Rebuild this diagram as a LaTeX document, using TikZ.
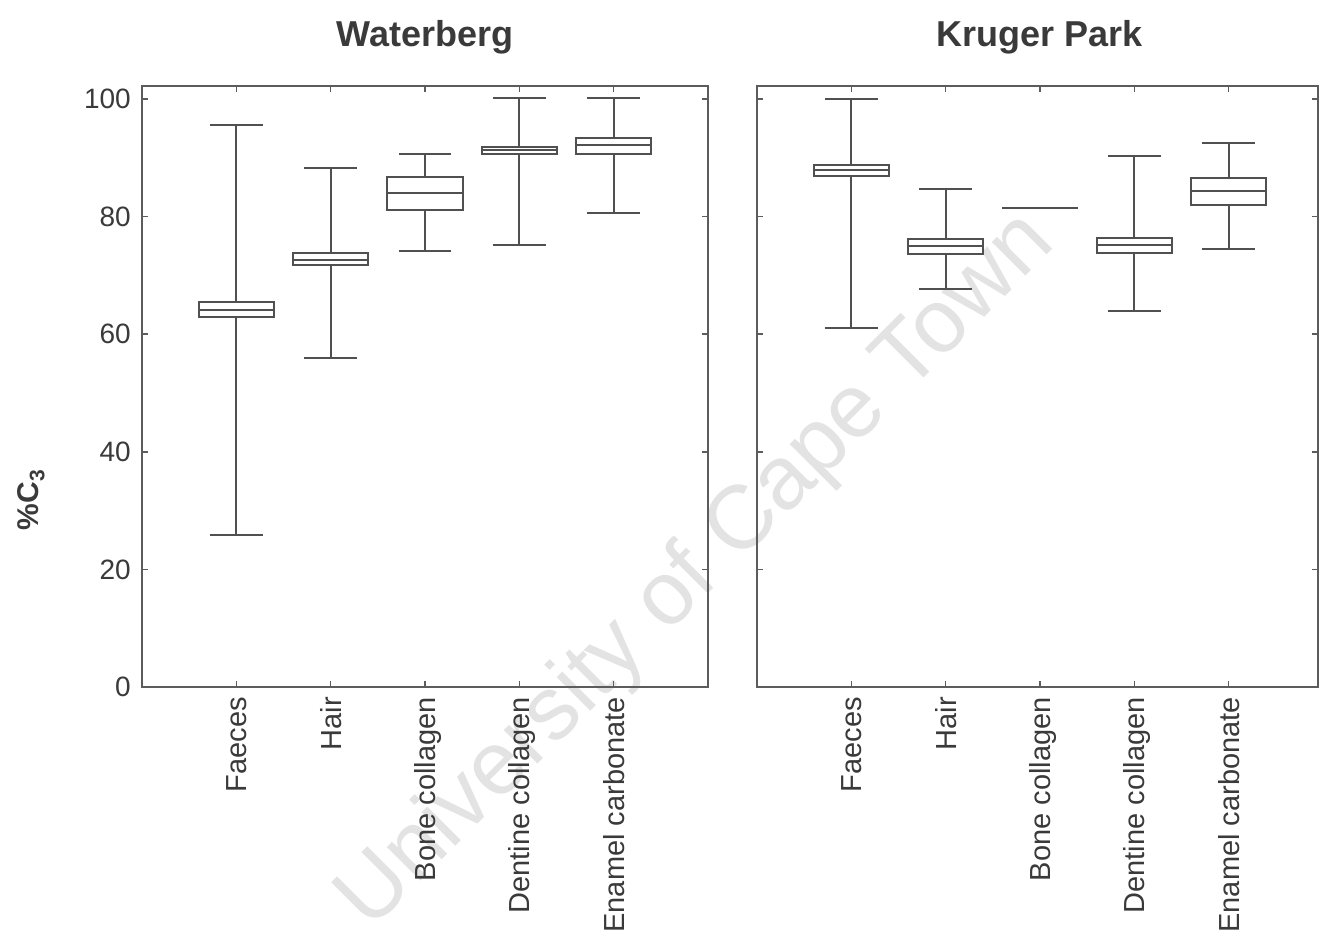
\documentclass[tikz,border=0pt]{standalone}
\usepackage{fontspec}
\setmainfont{Liberation Sans}
\definecolor{axcol}{HTML}{5C5C5C}
\definecolor{bpcol}{HTML}{505050}
\definecolor{txtcol}{HTML}{3A3A3A}
\definecolor{wmcol}{HTML}{E3E3E3}
\newcommand\bxplot[6]{%
  \draw[bpline] (#1,#2) -- (#1,#3) (#1,#5) -- (#1,#6);
  \draw[bpline] (#1-0.28,#2) -- (#1+0.28,#2) (#1-0.28,#6) -- (#1+0.28,#6);
  \draw[bpline] (#1-0.4,#3) rectangle (#1+0.4,#5);
  \draw[bpline] (#1-0.4,#4) -- (#1+0.4,#4);
}
\begin{document}
\begin{tikzpicture}[x=1pt,y=-1pt,
  axline/.style={draw=axcol,line width=1.8pt},
  tickline/.style={draw=axcol,line width=1.6pt},
  bpline/.style={draw=bpcol,line width=2pt},
  titletext/.style={font=\fontsize{36}{40}\selectfont\bfseries,text=txtcol,anchor=base,inner sep=0pt},
  ticklab/.style={font=\fontsize{28}{32}\selectfont,text=txtcol,anchor=east,inner sep=0pt,xshift=-11pt},
  catlab/.style={font=\fontsize{29}{32}\selectfont,text=txtcol,rotate=90,anchor=base east,inner sep=0pt},
  ylabtext/.style={font=\fontsize{30}{34}\selectfont\bfseries,text=txtcol,rotate=90,inner sep=0pt},
  watermark/.style={font=\fontsize{90}{94}\selectfont,text=wmcol,rotate=45,inner sep=0pt}
]
\useasboundingbox[fill=white] (0,0) rectangle (1320,934);
% watermark
\node[watermark] (wm) at (697,572) {University of Cape Town};
% titles and y label
\node[titletext] (t1) at (425,47) {Waterberg};
\node[titletext] (t2) at (1040,47) {Kruger Park};
\node[ylabtext] (ylab) at (31,500) {\%C\textsubscript{3}};

% ---------------- Waterberg ----------------
\begin{scope}[shift={(142,687)},x=94.33pt,y=5.88pt]
  \draw[axline] (0,0) rectangle (6,102.2);
  \foreach \v in {20,40,60,80,100} {
    \draw[tickline] (0,\v) -- ++(6pt,0);
    \draw[tickline] (6,\v) -- ++(-6pt,0);
  }
  \foreach \k in {1,...,5} {
    \draw[tickline] (\k,0) -- ++(0,6pt);
    \draw[tickline] (\k,102.2) -- ++(0,-6pt);
  }
  \foreach \v in {0,20,40,60,80,100} {
    \node[ticklab] (wy\v) at (0,\v) {\v};
  }
  \node[catlab] (wc1) at ([xshift=10.5pt,yshift=-10pt]1,0) {Faeces};
  \node[catlab] (wc2) at ([xshift=10.5pt,yshift=-10pt]2,0) {Hair};
  \node[catlab] (wc3) at ([xshift=10.5pt,yshift=-10pt]3,0) {Bone collagen};
  \node[catlab] (wc4) at ([xshift=10.5pt,yshift=-10pt]4,0) {Dentine collagen};
  \node[catlab] (wc5) at ([xshift=10.5pt,yshift=-10pt]5,0) {Enamel carbonate};
  \bxplot{1}{25.8}{63.0}{64.2}{65.5}{95.5}
  \bxplot{2}{55.9}{71.8}{72.7}{73.8}{88.2}
  \bxplot{3}{74.1}{81.2}{84.0}{86.7}{90.6}
  \bxplot{4}{75.2}{90.6}{91.3}{91.9}{100.1}
  \bxplot{5}{80.6}{90.7}{92.2}{93.4}{100.1}
\end{scope}

% ---------------- Kruger Park ----------------
\begin{scope}[shift={(757,687)},x=94.33pt,y=5.88pt]
  \draw[axline] (0,0) rectangle (5.95,102.2);
  \foreach \v in {20,40,60,80,100} {
    \draw[tickline] (0,\v) -- ++(6pt,0);
    \draw[tickline] (5.95,\v) -- ++(-6pt,0);
  }
  \foreach \k in {1,...,5} {
    \draw[tickline] (\k,0) -- ++(0,6pt);
    \draw[tickline] (\k,102.2) -- ++(0,-6pt);
  }
  \node[catlab] (kc1) at ([xshift=10.5pt,yshift=-10pt]1,0) {Faeces};
  \node[catlab] (kc2) at ([xshift=10.5pt,yshift=-10pt]2,0) {Hair};
  \node[catlab] (kc3) at ([xshift=10.5pt,yshift=-10pt]3,0) {Bone collagen};
  \node[catlab] (kc4) at ([xshift=10.5pt,yshift=-10pt]4,0) {Dentine collagen};
  \node[catlab] (kc5) at ([xshift=10.5pt,yshift=-10pt]5,0) {Enamel carbonate};
  \bxplot{1}{61.1}{86.9}{87.9}{88.8}{100.0}
  \bxplot{2}{67.7}{73.7}{75.0}{76.2}{84.7}
  \draw[bpline] (3-0.4,81.5) -- (3+0.4,81.5);
  \bxplot{4}{63.9}{73.8}{75.1}{76.3}{90.3}
  \bxplot{5}{74.5}{81.9}{84.3}{86.6}{92.6}
\end{scope}
\end{tikzpicture}
\end{document}
